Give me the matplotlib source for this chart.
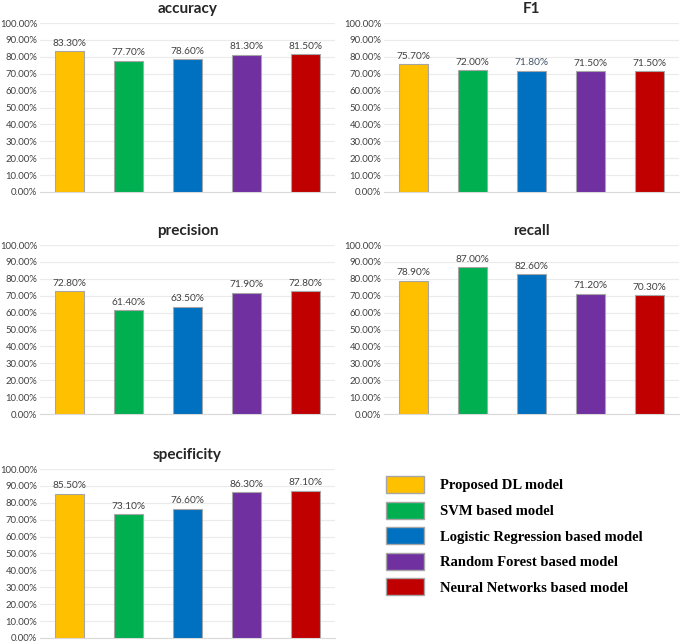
import matplotlib.pyplot as plt
from matplotlib.patches import Patch
from matplotlib.ticker import FuncFormatter, MultipleLocator

# Data
models = ['Proposed DL model', 'SVM based model', 'Logistic Regression based model',
          'Random Forest based model', 'Neural Networks based model']
colors = ['#FFC000', '#00B050', '#0070C0', '#7030A0', '#C00000']

accuracy = [83.3, 77.7, 78.6, 81.3, 81.5]
f1 = [75.7, 72.0, 71.8, 71.5, 71.5]
precision = [72.8, 61.4, 63.5, 71.9, 72.8]
recall = [78.9, 87.0, 82.6, 71.2, 70.3]
specificity = [85.5, 73.1, 76.6, 86.3, 87.1]

panels = [('accuracy', accuracy), ('F1', f1), ('precision', precision),
          ('recall', recall), ('specificity', specificity)]

plt.rcParams['font.family'] = ['Lato', 'DejaVu Sans']

fig = plt.figure(figsize=(6.85, 6.43), dpi=100)

# axes rectangles [left, bottom, width, height] in figure fraction
rects = [
    [0.0584, 0.7014, 0.4307, 0.2628],
    [0.5605, 0.7014, 0.4307, 0.2628],
    [0.0584, 0.3561, 0.4307, 0.2628],
    [0.5605, 0.3561, 0.4307, 0.2628],
    [0.0584, 0.0078, 0.4307, 0.2628],
]

x = range(len(models))
for (title, vals), rect in zip(panels, rects):
    ax = fig.add_axes(rect)
    ax.bar(x, vals, width=0.5, color=colors, edgecolor='#A6A6A6', linewidth=0.8, zorder=3)
    for i, v in enumerate(vals):
        c = '#44546A' if (title == 'F1' and i == 2) else '#404040'
        ax.text(i, v + 2, f'{v:.2f}%', ha='center', va='bottom', fontsize=7.3, color=c)
    ax.set_xlim(-0.5, 4.5)
    ax.set_ylim(0, 100)
    ax.yaxis.set_major_locator(MultipleLocator(10))
    ax.yaxis.set_major_formatter(FuncFormatter(lambda v, p: f'{v:.2f}%'))
    ax.set_xticks([])
    ax.tick_params(axis='y', length=0, labelsize=6.8, labelcolor='#404040', pad=2)
    ax.grid(axis='y', color='#EBEBEB', linewidth=0.8, zorder=0)
    for s in ['top', 'right', 'left']:
        ax.spines[s].set_visible(False)
    ax.spines['bottom'].set_color('#D9D9D9')
    ax.set_title(title, fontsize=11, fontweight='bold', color='#262626', pad=7)

handles = [Patch(facecolor=c, edgecolor='#A6A6A6', label=m) for c, m in zip(colors, models)]
fig.legend(handles=handles, loc='upper left', bbox_to_anchor=(0.545, 0.280),
           frameon=False, handlelength=2.6, handleheight=1.4, handletextpad=1.1,
           labelspacing=0.6, prop={'family': 'Liberation Serif', 'weight': 'bold', 'size': 10.5})

fig.savefig('out.png', dpi=100)
